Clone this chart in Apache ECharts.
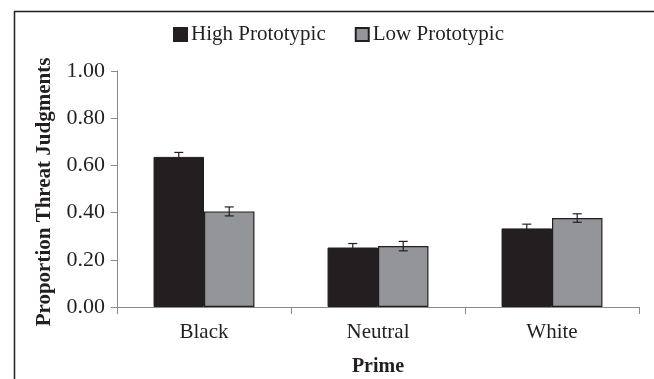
<!DOCTYPE html>
<html><head><meta charset="utf-8">
<script src="https://cdn.jsdelivr.net/npm/echarts@6/dist/echarts.min.js"></script>
<style>html,body{margin:0;padding:0;background:#fff}#c{width:654px;height:379px}</style>
</head><body><div id="c"></div>
<script>
const categories = ['Black', 'Neutral', 'White'];
const seriesNames = ['High Prototypic', 'Low Prototypic'];
const highValues = [0.636, 0.252, 0.333];
const lowValues = [0.405, 0.258, 0.377];
const highErrors = [0.019, 0.017, 0.018];
const lowErrors = [0.019, 0.020, 0.018];
const yTicks = [0, 0.2, 0.4, 0.6, 0.8, 1.0];

const FONT = '"Liberation Serif", "Times New Roman", serif';
const GAP = 0.42;
const chart = echarts.init(document.getElementById('c'));

function errSeries(vals, errs, idx) {
  return {
    type: 'custom',
    silent: true,
    z: 10,
    data: vals.map((v, i) => [i, v, errs[i]]),
    renderItem: function (params, api) {
      const band = api.size([1, 0])[0];
      const bw = band * (1 - GAP) / 2;
      const c = api.coord([api.value(0), api.value(1)]);
      const x = c[0] + (idx === 0 ? -bw / 2 : bw / 2);
      const top = api.coord([api.value(0), api.value(1) + api.value(2)])[1];
      const bot = api.coord([api.value(0), api.value(1) - api.value(2)])[1];
      const cap = 4.5;
      const st = { stroke: '#231f20', lineWidth: 1.2 };
      return { type: 'group', children: [
        { type: 'line', shape: { x1: x, y1: top, x2: x, y2: bot }, style: st },
        { type: 'line', shape: { x1: x - cap, y1: top, x2: x + cap, y2: top }, style: st },
        { type: 'line', shape: { x1: x - cap, y1: bot, x2: x + cap, y2: bot }, style: st }
      ]};
    }
  };
}

chart.setOption({
  animation: false,
  textStyle: { fontFamily: FONT },
  graphic: [{ type: 'rect', left: 12, top: 9, shape: { width: 700, height: 400 },
    style: { fill: 'none', stroke: '#231f20', lineWidth: 1.5 }, z: -1 }],
  legend: {
    top: 19, left: 168, itemGap: 29,
    itemWidth: 13, itemHeight: 13, icon: 'rect',
    textStyle: { fontFamily: FONT, fontSize: 21, color: '#231f20', padding: [0, 0, 0, -1] },
    data: seriesNames
  },
  grid: { left: 117, right: 15, top: 71, bottom: 72, outerBoundsMode: 'none', containLabel: false },
  xAxis: {
    type: 'category', data: categories,
    name: 'Prime', nameLocation: 'middle', nameGap: 50,
    nameTextStyle: { fontFamily: FONT, fontSize: 20, fontWeight: 'bold', color: '#231f20' },
    axisLine: { lineStyle: { color: '#8a8a8a', width: 1 } },
    axisTick: { show: true, length: 7, lineStyle: { color: '#8a8a8a' } },
    axisLabel: { fontFamily: FONT, fontSize: 21, color: '#231f20', margin: 15 }
  },
  yAxis: {
    type: 'value', min: 0, max: 1, interval: 0.2,
    name: 'Proportion Threat Judgments', nameLocation: 'middle', nameGap: 62,
    nameTextStyle: { fontFamily: FONT, fontSize: 21, fontWeight: 'bold', color: '#231f20', padding: [0, 6, 0, 0] },
    axisLine: { show: true, lineStyle: { color: '#8a8a8a', width: 1 } },
    axisTick: { show: true, length: 6, lineStyle: { color: '#8a8a8a' } },
    splitLine: { show: false },
    axisLabel: { fontFamily: FONT, fontSize: 22, color: '#231f20', margin: 12,
      formatter: v => yTicks.includes(Math.round(v * 10) / 10) ? v.toFixed(2) : '' }
  },
  series: [
    { name: seriesNames[0], type: 'bar', data: highValues, barGap: '0%', barCategoryGap: (GAP * 100) + '%',
      itemStyle: { color: '#231f20', borderColor: '#231f20', borderWidth: 1 } },
    { name: seriesNames[1], type: 'bar', data: lowValues, barGap: '0%', barCategoryGap: (GAP * 100) + '%',
      itemStyle: { color: '#939598', borderColor: '#231f20', borderWidth: 1.2 } },
    errSeries(highValues, highErrors, 0),
    errSeries(lowValues, lowErrors, 1)
  ]
});
</script></body></html>
